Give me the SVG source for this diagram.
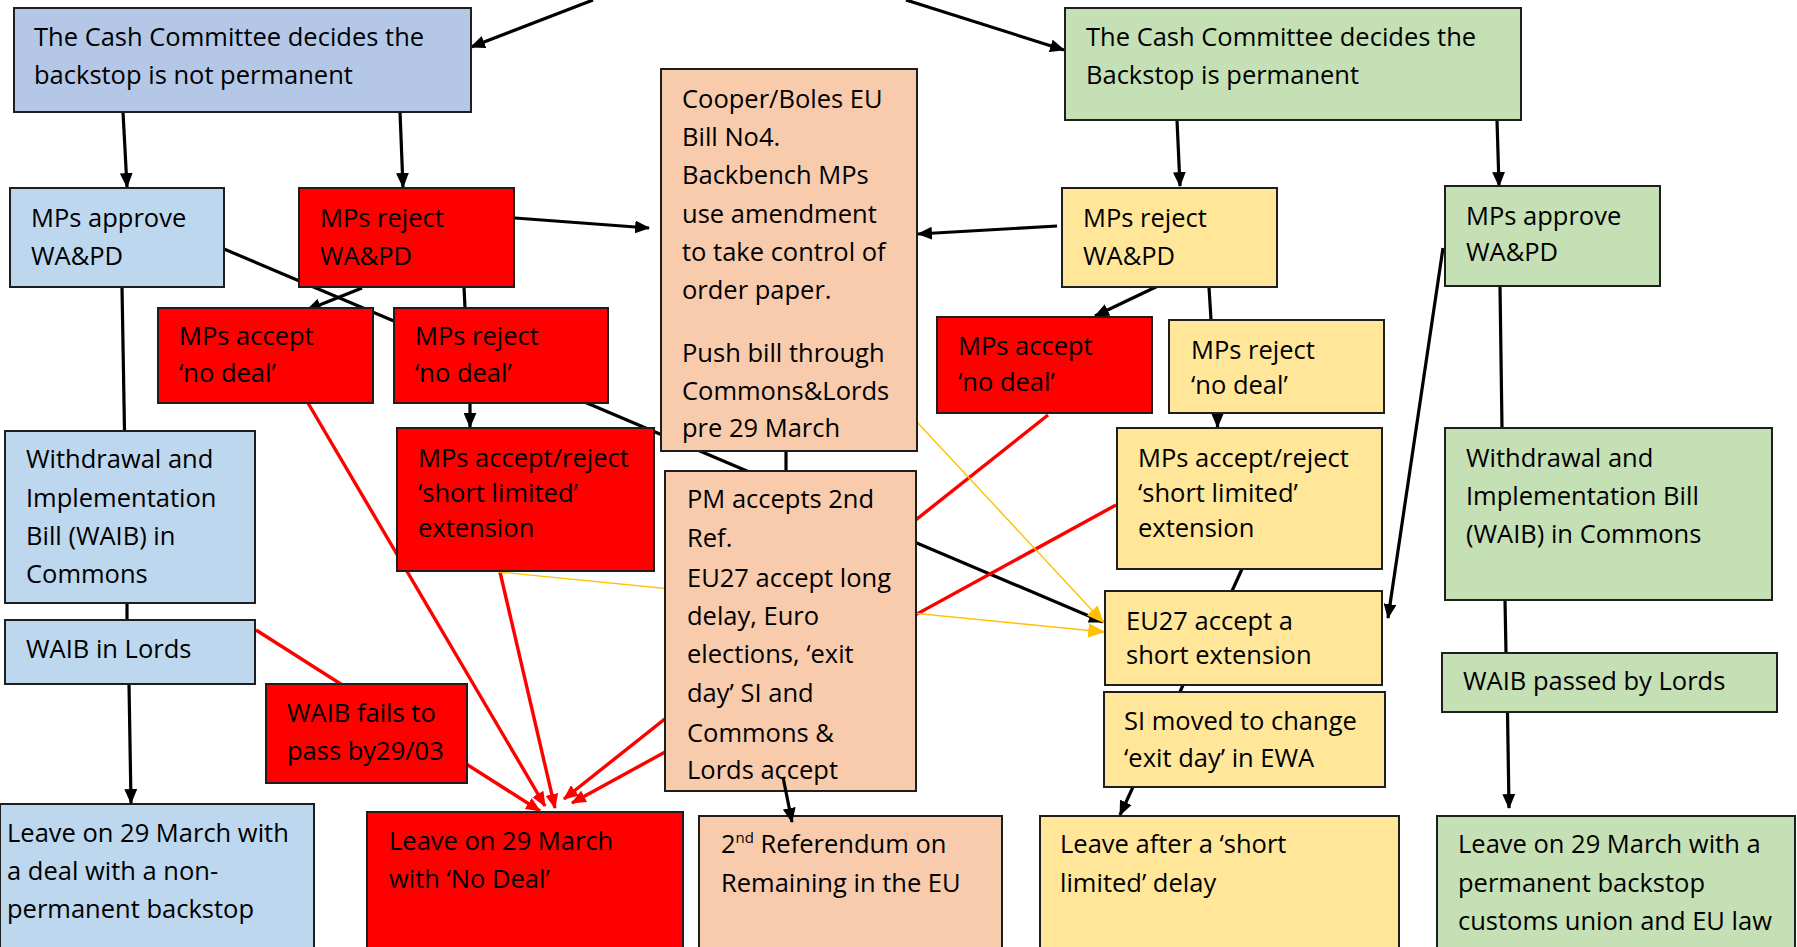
<svg xmlns="http://www.w3.org/2000/svg" width="1797" height="947" viewBox="0 0 1797 947">
<defs>
<style>
.n{stroke:#1e1e1e;stroke-width:2}
.blue0{fill:#B4C7E7}.blue{fill:#BDD7EE}.green{fill:#C5E0B4}.red{fill:#FF0000}.yellow{fill:#FFE699}.peach{fill:#F8CBAD}
text{font-family:"Open Sans","Liberation Sans",sans-serif;font-size:25.5px;fill:#000}
.k{stroke:#000;stroke-width:3.2;fill:none}
.r{stroke:#FF0000;stroke-width:3.4;fill:none}
.y{stroke:#FFC000;stroke-width:1.4;fill:none}
</style>
<marker id="ak" viewBox="0 0 14 12" refX="13" refY="6" markerWidth="15" markerHeight="13" markerUnits="userSpaceOnUse" orient="auto"><path d="M0,0 L14,6 L0,12 z" fill="#000"/></marker>
<marker id="ar" viewBox="0 0 14 12" refX="13" refY="6" markerWidth="15" markerHeight="13" markerUnits="userSpaceOnUse" orient="auto"><path d="M0,0 L14,6 L0,12 z" fill="#FF0000"/></marker>
<marker id="ay" viewBox="0 0 14 12" refX="13" refY="6" markerWidth="17" markerHeight="15" markerUnits="userSpaceOnUse" orient="auto"><path d="M0,0 L14,6 L0,12 z" fill="#FFC000"/></marker>
</defs>
<rect width="1797" height="947" fill="#fff"/>
<g id="connectors">
<line class="k" x1="593" y1="0" x2="471" y2="47" marker-end="url(#ak)"/>
<line class="k" x1="906" y1="0" x2="1064" y2="50" marker-end="url(#ak)"/>
<line class="k" x1="123" y1="112" x2="127" y2="187" marker-end="url(#ak)"/>
<line class="k" x1="400" y1="112" x2="403" y2="187" marker-end="url(#ak)"/>
<line class="k" x1="1177" y1="120" x2="1180" y2="186" marker-end="url(#ak)"/>
<line class="k" x1="1497" y1="120" x2="1499" y2="186" marker-end="url(#ak)"/>
<line class="k" x1="515" y1="218" x2="649" y2="228" marker-end="url(#ak)"/>
<line class="k" x1="1057" y1="226" x2="918" y2="234" marker-end="url(#ak)"/>
<line class="k" x1="362" y1="288" x2="307" y2="310" marker-end="url(#ak)"/>
<line class="k" x1="464" y1="287" x2="465" y2="308"/>
<line class="k" x1="224" y1="249" x2="1103" y2="622" marker-end="url(#ak)"/>
<line class="k" x1="470" y1="403" x2="470" y2="427" marker-end="url(#ak)"/>
<line class="k" x1="786" y1="451" x2="786" y2="471"/>
<line class="k" x1="122" y1="287" x2="124.5" y2="431"/>
<line class="k" x1="127" y1="603" x2="127" y2="620"/>
<line class="k" x1="129" y1="684" x2="131" y2="803" marker-end="url(#ak)"/>
<line class="k" x1="1160" y1="285" x2="1095" y2="316" marker-end="url(#ak)"/>
<line class="k" x1="1209" y1="287" x2="1211" y2="320"/>
<line class="k" x1="1217.5" y1="413" x2="1217.5" y2="427" marker-end="url(#ak)"/>
<line class="k" x1="1242" y1="569" x2="1232" y2="591"/>
<line class="k" x1="1183" y1="685" x2="1180" y2="692"/>
<line class="k" x1="1133" y1="787" x2="1120" y2="815" marker-end="url(#ak)"/>
<line class="k" x1="1443" y1="248" x2="1388" y2="618" marker-end="url(#ak)"/>
<line class="k" x1="1500" y1="286" x2="1502" y2="428"/>
<line class="k" x1="1505" y1="600" x2="1506" y2="653"/>
<line class="k" x1="1507.5" y1="712" x2="1509" y2="808" marker-end="url(#ak)"/>
<line class="r" x1="256" y1="630" x2="540" y2="811" marker-end="url(#ar)"/>
<line class="r" x1="308" y1="403" x2="545" y2="806" marker-end="url(#ar)"/>
<line class="r" x1="500" y1="572" x2="555" y2="808" marker-end="url(#ar)"/>
<line class="r" x1="1048" y1="415" x2="564" y2="799" marker-end="url(#ar)"/>
<line class="r" x1="1116" y1="505" x2="572" y2="803" marker-end="url(#ar)"/>
<line class="y" x1="917" y1="422" x2="1103" y2="622" marker-end="url(#ay)"/>
<line class="y" x1="499" y1="572" x2="1104" y2="632" marker-end="url(#ay)"/>
</g>
<g id="n1"><rect class="n blue0" x="14" y="8" width="457" height="104"/><text x="34" y="46">The Cash Committee decides the</text><text x="34" y="84">backstop is not permanent</text></g>
<g id="n2"><rect class="n green" x="1065" y="8" width="456" height="112"/><text x="1086" y="46">The Cash Committee decides the</text><text x="1086" y="84">Backstop is permanent</text></g>
<g id="n3"><rect class="n blue" x="10" y="188" width="214" height="99"/><text x="31" y="227">MPs approve</text><text x="31" y="265">WA&amp;PD</text></g>
<g id="n4"><rect class="n red" x="299" y="188" width="215" height="99"/><text x="320" y="227">MPs reject</text><text x="320" y="265">WA&amp;PD</text></g>
<g id="n5"><rect class="n peach" x="661" y="69" width="256" height="382"/><text x="682" y="108">Cooper/Boles EU</text><text x="682" y="146">Bill No4.</text><text x="682" y="184">Backbench MPs</text><text x="682" y="223">use amendment</text><text x="682" y="261">to take control of</text><text x="682" y="299">order paper.</text><text x="682" y="362">Push bill through</text><text x="682" y="400">Commons&amp;Lords</text><text x="682" y="437">pre 29 March</text></g>
<g id="n6"><rect class="n yellow" x="1062" y="188" width="215" height="99"/><text x="1083" y="227">MPs reject</text><text x="1083" y="265">WA&amp;PD</text></g>
<g id="n7"><rect class="n green" x="1445" y="186" width="215" height="100"/><text x="1466" y="225">MPs approve</text><text x="1466" y="261">WA&amp;PD</text></g>
<g id="n8"><rect class="n red" x="158" y="308" width="215" height="95"/><text x="179" y="345">MPs accept</text><text x="179" y="382">‘no deal’</text></g>
<g id="n9"><rect class="n red" x="394" y="308" width="214" height="95"/><text x="415" y="345">MPs reject</text><text x="415" y="382">‘no deal’</text></g>
<g id="n10"><rect class="n red" x="397" y="428" width="257" height="143"/><text x="418" y="467">MPs accept/reject</text><text x="418" y="502">‘short limited’</text><text x="418" y="537">extension</text></g>
<g id="n11"><rect class="n blue" x="5" y="431" width="250" height="172"/><text x="26" y="468">Withdrawal and</text><text x="26" y="507">Implementation</text><text x="26" y="545">Bill (WAIB) in</text><text x="26" y="583">Commons</text></g>
<g id="n12"><rect class="n blue" x="5" y="620" width="250" height="64"/><text x="26" y="658">WAIB in Lords</text></g>
<g id="n13"><rect class="n red" x="266" y="684" width="201" height="99"/><text x="287" y="722">WAIB fails to</text><text x="287" y="760">pass by29/03</text></g>
<g id="n14"><rect class="n blue" x="0" y="804" width="314" height="150"/><text x="7" y="842">Leave on 29 March with</text><text x="7" y="880">a deal with a non-</text><text x="7" y="918">permanent backstop</text></g>
<g id="n15"><rect class="n red" x="367" y="812" width="316" height="142"/><text x="389" y="850">Leave on 29 March</text><text x="389" y="888">with ‘No Deal’</text></g>
<g id="n16"><rect class="n peach" x="699" y="816" width="303" height="138"/><text x="721" y="853">2<tspan font-size="15" dy="-10">nd</tspan><tspan dy="10"> Referendum on</tspan></text><text x="721" y="892">Remaining in the EU</text></g>
<g id="n17"><rect class="n peach" x="665" y="471" width="251" height="320"/><text x="687" y="508">PM accepts 2nd</text><text x="687" y="547">Ref.</text><text x="687" y="587">EU27 accept long</text><text x="687" y="625">delay, Euro</text><text x="687" y="663">elections, ‘exit</text><text x="687" y="702">day’ SI and</text><text x="687" y="742">Commons &amp;</text><text x="687" y="779">Lords accept</text></g>
<g id="n18"><rect class="n red" x="937" y="317" width="215" height="96"/><text x="958" y="355">MPs accept</text><text x="958" y="391">‘no deal’</text></g>
<g id="n19"><rect class="n yellow" x="1169" y="320" width="215" height="93"/><text x="1191" y="359">MPs reject</text><text x="1191" y="394">‘no deal’</text></g>
<g id="n20"><rect class="n yellow" x="1117" y="428" width="265" height="141"/><text x="1138" y="467">MPs accept/reject</text><text x="1138" y="502">‘short limited’</text><text x="1138" y="537">extension</text></g>
<g id="n21"><rect class="n green" x="1445" y="428" width="327" height="172"/><text x="1466" y="467">Withdrawal and</text><text x="1466" y="505">Implementation Bill</text><text x="1466" y="543">(WAIB) in Commons</text></g>
<g id="n22"><rect class="n yellow" x="1105" y="591" width="277" height="94"/><text x="1126" y="630">EU27 accept a</text><text x="1126" y="664">short extension</text></g>
<g id="n23"><rect class="n yellow" x="1104" y="692" width="281" height="95"/><text x="1124" y="730">SI moved to change</text><text x="1124" y="767">‘exit day’ in EWA</text></g>
<g id="n24"><rect class="n yellow" x="1040" y="816" width="359" height="138"/><text x="1060" y="853">Leave after a ‘short</text><text x="1060" y="892">limited’ delay</text></g>
<g id="n25"><rect class="n green" x="1442" y="653" width="335" height="59"/><text x="1463" y="690">WAIB passed by Lords</text></g>
<g id="n26"><rect class="n green" x="1437" y="816" width="358" height="138"/><text x="1458" y="853">Leave on 29 March with a</text><text x="1458" y="892">permanent backstop</text><text x="1458" y="930">customs union and EU law</text></g>
<g id="connectors-front">
<line class="k" x1="783" y1="777" x2="792" y2="822" marker-end="url(#ak)"/>
</g>
</svg>
